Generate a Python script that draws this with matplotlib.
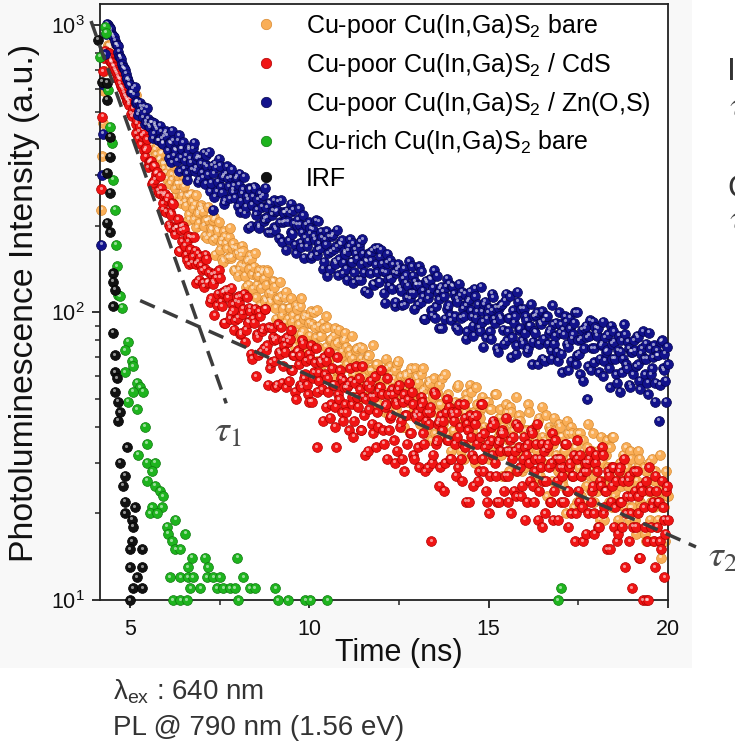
import numpy as np
import matplotlib
matplotlib.use("Agg")
import matplotlib.pyplot as plt
from matplotlib import transforms
from matplotlib.lines import Line2D
from matplotlib.patches import Rectangle
from matplotlib.ticker import FixedLocator, NullFormatter, LogLocator

plt.rcParams['font.family'] = ['Liberation Sans', 'DejaVu Sans']
plt.rcParams['mathtext.fontset'] = 'custom'
plt.rcParams['mathtext.rm'] = 'Liberation Sans'
plt.rcParams['mathtext.it'] = 'Liberation Sans:italic'
plt.rcParams['mathtext.bf'] = 'Liberation Sans:bold'

# ---- TRPL decays, 0.025 ns channels starting at 4.200 ns ----
# even-numbered channels (4.200, 4.250, ...)
bare_even = [
    228, 455, 690, 830, 846, 852, 803, 790, 748, 730, 690, 676, 642, 628, 604, 590,
    590, 548, 561, 512, 498, 479, 501, 452, 438, 451, 409, 426, 385, 401, 368, 379, 341, 358, 329, 318,
    306, 336, 280, 303, 325, 270, 280, 244, 280, 255, 275, 235, 254, 220, 259, 230, 238, 198, 223, 229,
    230, 200, 209, 181, 210, 196, 179, 214, 182, 192, 165, 179, 150, 184, 167, 183, 155, 168, 141, 167,
    134, 163, 146, 163, 134, 150, 125, 158, 136, 144, 113, 134, 140, 122, 140, 111, 125, 138, 110, 116,
    128, 104, 112, 92, 114, 104, 92, 118, 95, 104, 85, 98, 76, 103, 91, 105, 84, 95, 75, 97,
    83, 101, 75, 89, 102, 76, 83, 66, 88, 76, 89, 69, 81, 63, 88, 72, 79, 57, 73, 80,
    85, 66, 74, 58, 69, 51, 74, 63, 76, 58, 67, 51, 69, 71, 57, 63, 49, 66, 59, 52,
    53, 59, 45, 64, 55, 65, 49, 59, 45, 66, 53, 60, 40, 55, 61, 49, 62, 44, 55, 64,
    59, 50, 61, 45, 54, 39, 56, 57, 45, 51, 38, 53, 48, 40, 59, 44, 51, 38, 47, 33,
    39, 49, 36, 56, 43, 49, 31, 46, 50, 40, 53, 35, 45, 55, 37, 43, 31, 47, 39, 49,
    31, 46, 40, 34, 52, 37, 43, 32, 40, 27, 45, 37, 47, 33, 41, 28, 42, 44, 33, 39,
    29, 38, 48, 31, 37, 25, 40, 33, 43, 29, 37, 26, 44, 33, 39, 22, 35, 39, 30, 41,
    37, 26, 33, 20, 38, 31, 40, 27, 34, 22, 36, 38, 27, 32, 22, 34, 30, 24, 38, 27,
    28, 33, 19, 30, 34, 25, 36, 22, 29, 37, 23, 27, 19, 30, 25, 32, 21, 29, 19, 33,
    21, 27, 17, 29, 31, 21, 25, 17, 28, 24, 19, 31, 21, 26, 18, 24, 14, 26, 21, 28,
    23,
]
cds_even = [
    268, 690, 812, 785, 796, 752, 738, 715, 688, 664, 645, 612, 598, 570, 552, 538,
    557, 482, 489, 420, 466, 427, 385, 434, 366, 373, 320, 335, 280, 324, 291, 308, 260, 270, 228, 255,
    224, 253, 198, 219, 239, 187, 197, 164, 199, 177, 195, 159, 177, 147, 183, 157, 164, 127, 150, 156,
    140, 123, 159, 127, 138, 112, 128, 98, 132, 116, 132, 105, 118, 92, 118, 120, 99, 107, 87, 109,
    96, 114, 85, 103, 79, 113, 92, 101, 69, 92, 60, 82, 101, 73, 88, 103, 74, 56, 64, 88,
    80, 55, 56, 73, 89, 65, 77, 55, 79, 81, 63, 71, 53, 73, 66, 56, 80, 59, 68, 52,
    49, 77, 59, 67, 34, 62, 68, 54, 70, 47, 59, 73, 48, 56, 40, 34, 52, 63, 45, 58,
    48, 55, 39, 58, 51, 42, 65, 47, 54, 39, 51, 32, 56, 46, 58, 41, 51, 34, 53, 55,
    63, 39, 47, 31, 52, 43, 54, 36, 49, 33, 56, 42, 49, 28, 44, 50, 38, 53, 32, 44,
    45, 29, 47, 49, 35, 42, 29, 45, 16, 32, 52, 36, 42, 29, 39, 24, 45, 36, 47, 31,
    44, 35, 45, 29, 40, 26, 48, 34, 41, 22, 37, 43, 31, 44, 26, 37, 48, 28, 34, 22,
    20, 40, 32, 41, 27, 35, 22, 38, 38, 27, 33, 22, 36, 31, 24, 41, 28, 34, 23, 31,
    19, 32, 35, 26, 38, 22, 31, 41, 24, 29, 18, 33, 26, 35, 22, 30, 19, 36, 26, 31,
    31, 27, 22, 35, 24, 29, 20, 27, 16, 31, 24, 32, 21, 28, 17, 30, 31, 22, 25, 17,
    32, 18, 26, 34, 20, 24, 15, 27, 22, 29, 18, 26, 17, 29, 22, 26, 13, 23, 27, 20,
    11, 28, 18, 23, 14, 25, 10, 18, 10, 10, 24, 21, 16, 27, 18, 22, 15, 21, 12, 24,
    19,
]
zos_even = [
    172, 418, 790, 1010, 985, 968, 925, 905, 858, 842, 780, 762, 712, 700, 648, 640,
    618, 583, 575, 536, 541, 502, 521, 478, 497, 462, 471, 440, 459, 421, 446, 432, 398, 425, 390, 410,
    427, 367, 391, 333, 398, 370, 337, 414, 347, 371, 316, 353, 289, 368, 333, 373, 311, 342, 284, 346,
    306, 360, 280, 322, 363, 283, 228, 253, 320, 285, 324, 261, 300, 246, 323, 275, 295, 262, 277, 293,
    234, 304, 245, 268, 221, 254, 197, 268, 237, 274, 219, 248, 197, 252, 256, 213, 232, 190, 239, 219,
    246, 194, 227, 182, 246, 206, 222, 165, 208, 223, 190, 228, 172, 202, 230, 175, 190, 155, 202, 178,
    188, 155, 194, 179, 159, 208, 167, 183, 150, 173, 134, 184, 163, 187, 150, 170, 135, 174, 178, 149,
    160, 130, 170, 150, 174, 138, 161, 130, 176, 148, 160, 119, 150, 161, 137, 164, 125, 147, 168, 128,
    165, 139, 108, 149, 131, 152, 121, 138, 109, 141, 143, 119, 131, 107, 135, 124, 112, 145, 117, 128,
    125, 145, 109, 119, 95, 129, 112, 131, 102, 122, 96, 134, 111, 121, 88, 114, 123, 103, 126, 94,
    123, 97, 112, 87, 115, 118, 97, 106, 86, 111, 102, 90, 121, 96, 107, 86, 101, 76, 109, 95,
    104, 81, 116, 95, 104, 73, 97, 106, 87, 110, 80, 96, 114, 82, 92, 72, 118, 87, 103, 78,
    85, 94, 75, 90, 66, 97, 85, 100, 78, 91, 69, 94, 97, 78, 87, 69, 91, 83, 73, 100,
    91, 62, 84, 93, 76, 96, 68, 84, 100, 71, 80, 61, 87, 75, 90, 50, 83, 63, 93, 75,
    85, 88, 69, 78, 60, 82, 74, 64, 90, 69, 79, 61, 74, 53, 80, 69, 84, 64, 75, 55,
    73, 80, 65, 82, 58, 72, 86, 61, 69, 52, 75, 64, 77, 57, 71, 42, 79, 64, 72, 49,
    66,
]

# odd-numbered channels (4.225, 4.275, ...)
bare_odd = [
    350, 590, 780, 850, 832, 835, 812, 772, 760, 712, 700, 660, 650, 612, 598, 580,
    599, 514, 544, 572, 479, 483, 500, 409, 459, 467, 410, 371, 423, 387, 354, 407, 342, 359, 305, 330,
    292, 318, 336, 289, 253, 300, 280, 296, 240, 300, 243, 256, 210, 257, 244, 211, 256, 219, 205, 236,
    225, 185, 209, 233, 186, 194, 210, 159, 195, 206, 174, 153, 192, 174, 155, 197, 157, 174, 139, 161,
    141, 158, 171, 144, 123, 153, 142, 154, 121, 161, 125, 135, 106, 138, 131, 109, 140, 117, 108, 129,
    123, 95, 111, 128, 98, 103, 113, 80, 104, 112, 93, 80, 106, 95, 84, 112, 86, 98, 75, 92,
    78, 91, 100, 82, 68, 90, 83, 92, 68, 97, 72, 80, 60, 83, 78, 63, 87, 70, 64, 81,
    76, 57, 71, 83, 61, 66, 75, 50, 69, 75, 60, 51, 71, 63, 54, 77, 56, 66, 48, 61,
    52, 61, 69, 55, 44, 61, 57, 63, 46, 68, 49, 56, 40, 60, 57, 44, 64, 51, 46, 60,
    57, 41, 53, 64, 45, 49, 58, 36, 53, 59, 45, 37, 56, 48, 41, 61, 43, 52, 36, 48,
    39, 48, 55, 43, 33, 49, 45, 52, 35, 56, 39, 45, 30, 48, 45, 35, 51, 40, 36, 49,
    46, 32, 41, 52, 35, 39, 46, 27, 42, 48, 36, 28, 45, 39, 32, 51, 34, 42, 28, 39,
    31, 39, 45, 34, 26, 39, 36, 42, 27, 47, 30, 36, 23, 40, 37, 26, 43, 32, 28, 40,
    37, 25, 33, 42, 28, 31, 38, 21, 34, 38, 29, 23, 36, 31, 25, 41, 27, 33, 22, 31,
    24, 31, 37, 26, 19, 32, 29, 34, 21, 37, 24, 29, 18, 30, 28, 21, 34, 25, 21, 31,
    28, 19, 26, 33, 22, 24, 29, 16, 26, 30, 22, 16, 28, 23, 19, 32, 21, 25, 16, 23,
]
cds_odd = [
    480, 770, 800, 800, 770, 745, 722, 700, 676, 650, 626, 605, 584, 560, 545, 528,
    492, 512, 520, 454, 402, 445, 412, 418, 348, 401, 333, 337, 284, 323, 304, 265, 299, 259, 240, 259,
    246, 202, 223, 241, 194, 198, 211, 163, 193, 200, 171, 152, 184, 166, 149, 183, 148, 160, 130, 146,
    127, 142, 154, 128, 109, 136, 126, 137, 106, 140, 109, 117, 92, 120, 113, 95, 122, 102, 94, 113,
    108, 84, 99, 116, 87, 93, 104, 72, 95, 103, 84, 71, 97, 86, 75, 103, 77, 89, 67, 82,
    68, 81, 91, 72, 57, 80, 73, 82, 58, 87, 63, 71, 50, 74, 71, 55, 78, 61, 56, 72,
    69, 49, 62, 75, 53, 58, 67, 42, 61, 68, 53, 43, 64, 56, 47, 70, 50, 59, 42, 55,
    45, 56, 64, 48, 37, 57, 51, 59, 39, 65, 44, 50, 33, 55, 51, 38, 60, 45, 40, 55,
    52, 35, 48, 59, 39, 44, 52, 30, 48, 54, 40, 31, 52, 44, 35, 57, 38, 48, 31, 43,
    34, 44, 51, 38, 28, 45, 41, 47, 30, 53, 35, 41, 25, 44, 42, 30, 50, 36, 31, 45,
    42, 27, 37, 48, 31, 35, 43, 22, 39, 44, 32, 25, 41, 35, 28, 48, 31, 38, 24, 35,
    27, 36, 42, 30, 22, 36, 33, 39, 24, 43, 27, 33, 20, 37, 33, 23, 40, 29, 25, 37,
    34, 22, 30, 39, 25, 28, 35, 19, 31, 35, 26, 20, 34, 29, 22, 38, 24, 31, 19, 29,
    22, 29, 35, 24, 18, 30, 27, 32, 20, 36, 22, 27, 16, 30, 28, 20, 33, 24, 20, 30,
    28, 18, 25, 32, 21, 24, 28, 15, 25, 29, 21, 16, 28, 22, 18, 31, 20, 26, 16, 23,
    18, 24, 28, 20, 14, 24, 21, 26, 16, 29, 18, 22, 13, 24, 22, 16, 26, 19, 17, 25,
]
zos_odd = [
    300, 620, 930, 1000, 975, 940, 918, 880, 852, 806, 775, 730, 706, 676, 652, 622,
    583, 602, 610, 542, 488, 536, 508, 519, 451, 515, 446, 459, 404, 456, 439, 397, 447, 404, 386, 420,
    412, 346, 388, 429, 353, 367, 395, 310, 372, 391, 339, 305, 374, 344, 314, 389, 319, 350, 289, 331,
    294, 328, 354, 303, 264, 324, 305, 329, 264, 343, 274, 295, 239, 305, 293, 250, 315, 267, 251, 296,
    278, 224, 260, 296, 233, 247, 271, 200, 254, 271, 228, 201, 260, 233, 208, 272, 214, 241, 190, 226,
    198, 225, 244, 206, 176, 223, 208, 226, 178, 239, 188, 204, 161, 211, 202, 169, 218, 183, 170, 206,
    196, 158, 184, 209, 165, 174, 191, 142, 180, 192, 161, 142, 184, 166, 148, 194, 153, 173, 137, 163,
    142, 164, 180, 150, 127, 165, 154, 169, 130, 180, 138, 152, 117, 159, 152, 126, 167, 138, 128, 157,
    148, 117, 138, 160, 124, 132, 147, 105, 137, 147, 122, 106, 142, 127, 113, 151, 117, 134, 103, 125,
    107, 125, 139, 114, 95, 127, 117, 130, 98, 140, 105, 117, 88, 123, 118, 95, 131, 106, 98, 124,
    116, 89, 109, 126, 96, 103, 116, 81, 109, 118, 97, 83, 114, 101, 89, 123, 93, 107, 82, 100,
    86, 102, 113, 92, 75, 104, 95, 107, 78, 116, 86, 96, 70, 102, 97, 77, 109, 88, 80, 103,
    97, 73, 90, 107, 79, 86, 98, 66, 92, 101, 81, 68, 97, 85, 74, 106, 78, 92, 68, 85,
    72, 87, 97, 78, 63, 88, 81, 92, 66, 100, 72, 81, 58, 88, 82, 65, 94, 75, 67, 89,
    83, 62, 77, 93, 68, 73, 84, 55, 78, 86, 69, 57, 83, 73, 62, 91, 66, 79, 56, 73,
    61, 74, 83, 66, 54, 75, 69, 78, 57, 85, 61, 70, 49, 74, 71, 56, 80, 63, 58, 76,
]

# Cu-rich film and instrument response (only channels above the 10-count floor)
rich_t = [4.16, 4.30, 4.33, 4.39, 4.44, 4.50, 4.53, 4.58, 4.60, 4.64, 4.66, 4.72, 4.78,
          4.94, 4.86, 5.06, 5.08, 4.86, 5.20, 5.28, 5.08, 5.36, 4.94, 5.20, 5.42, 5.47,
          5.22, 5.47, 5.70, 5.61, 5.47, 5.70, 5.84, 5.92, 5.61, 5.89, 5.56, 5.75, 6.26,
          6.03, 6.06, 6.54, 6.17, 6.26, 6.40, 6.73, 7.09, 7.99, 6.62, 7.18, 6.12, 6.40,
          6.62, 6.76, 7.15, 7.32, 7.51, 8.16, 6.68, 6.96, 7.43, 7.60, 7.79, 7.93, 8.35,
          8.49, 9.05, 6.20, 6.40, 6.59, 8.02, 9.11, 9.39, 9.89, 10.03, 10.50, 17.01, 16.93]
rich_counts = [774, 985, 940, 594, 443, 390, 290, 228, 172, 145, 115, 114, 104,
               79, 74, 68, 65, 62, 57, 55, 53, 53, 49, 46, 40, 35,
               32, 30, 30, 28, 26, 25, 24, 23, 21, 21, 20, 20, 19,
               18, 17, 17, 16, 15, 15, 14, 14, 14, 13, 13, 12, 12,
               12, 12, 12, 12, 12, 12, 11, 11, 11, 11, 11, 11, 11,
               11, 11, 10, 10, 10, 10, 10, 10, 10, 10, 10, 11, 10]

irf_t = [4.11, 4.22, 4.36, 4.36, 4.44, 4.44, 4.36, 4.44, 4.36, 4.44, 4.53, 4.53, 4.58,
         4.53, 4.53, 4.58, 4.58, 4.64, 4.58, 4.66, 4.72, 4.66, 4.92, 4.72, 4.86, 4.80,
         4.86, 5.14, 4.86, 5.06, 5.08, 5.06, 5.00, 5.34, 5.00, 5.34, 5.20, 5.08, 5.34, 5.00]
irf_counts = [887, 634, 629, 549, 409, 348, 306, 261, 205, 190, 137, 128, 120,
              105, 85, 71, 62, 59, 53, 49, 45, 42, 34, 30, 27, 25,
              22, 21, 20, 19, 18, 16, 15, 15, 13, 13, 12, 11, 11, 10]

# Bi-exponential components (fast and slow decay guides)
tau1_t = [3.91, 7.68]
tau1_counts = [1032, 48.3]
tau2_t = [5.28, 20.78]
tau2_counts = [110, 15.3]

labels = ['Cu-poor Cu(In,Ga)S$_2$ bare',
          'Cu-poor Cu(In,Ga)S$_2$ / CdS',
          'Cu-poor Cu(In,Ga)S$_2$ / Zn(O,S)',
          'Cu-rich Cu(In,Ga)S$_2$ bare',
          'IRF']
colors = ['#f9ae57', '#f01414', '#12128c', '#1eb41e', '#111111']
edges = ['#d98a30', '#b00000', '#05054f', '#0f7a0f', '#000000']

t_even = np.round(4.20 + 0.05 * np.arange(len(bare_even)), 3)
t_odd = np.round(4.225 + 0.05 * np.arange(len(bare_odd)), 3)


def merged(even, odd):
    t = np.concatenate([t_even, t_odd])
    c = np.concatenate([even, odd]).astype(float)
    order = np.argsort(t, kind='stable')
    return t[order], c[order]


fig = plt.figure(figsize=(7.35, 7.46), dpi=100)
fig.patch.set_facecolor('white')
fig.add_artist(Rectangle((0, 1 - 668 / 746), 692 / 735, 668 / 746,
                         transform=fig.transFigure, facecolor='#f8f8f8',
                         edgecolor='none', zorder=-10))

ax = fig.add_axes([100 / 735, 1 - 600 / 746, 568 / 735, 596 / 746])
ax.set_facecolor('white')
ax.set_yscale('log')
ax.set_xlim(4.16, 20)
ax.set_ylim(10, 1183)


def spheres(t, y, color, edge, z):
    ax.scatter(t, y, s=50, c=color, edgecolors=edge, linewidths=0.5,
               zorder=z, clip_on=False)
    shine = transforms.offset_copy(ax.transData, fig=fig, x=-0.8, y=1.5, units='dots')
    ax.scatter(t, y, s=5, c='white', alpha=0.55, linewidths=0,
               transform=shine, zorder=z + 0.01, clip_on=False)


series = [merged(bare_even, bare_odd), merged(cds_even, cds_odd),
          merged(zos_even, zos_odd), (rich_t, rich_counts), (irf_t, irf_counts)]
for i, (tt, cc) in enumerate(series):
    spheres(tt, cc, colors[i], edges[i], 2 + i)

dash_kw = dict(color='#3c3c3c', lw=2.5, ls=(0, (4.6, 2.6)), zorder=10,
               clip_on=False, dash_capstyle='butt')
ax.plot(tau1_t, tau1_counts, **dash_kw)
ax.plot(tau2_t, tau2_counts, **dash_kw)

ax.text(7.35, 35.6, r'$\tau_1$', math_fontfamily='stix', fontsize=27,
        color='#4a4a4a', ha='left', va='baseline')
ax.text(21.12, 13.0, r'$\tau_2$', math_fontfamily='stix', fontsize=27,
        color='#4a4a4a', ha='left', va='baseline', clip_on=False)

# axes styling
for sp in ax.spines.values():
    sp.set_linewidth(1.3)
    sp.set_color('#222222')
ax.xaxis.set_major_locator(FixedLocator([5, 10, 15, 20]))
ax.xaxis.set_minor_locator(FixedLocator([7.5, 12.5, 17.5]))
ax.yaxis.set_major_locator(LogLocator(base=10, numticks=10))
ax.yaxis.set_minor_locator(LogLocator(base=10, subs=np.arange(2, 10), numticks=20))
ax.yaxis.set_minor_formatter(NullFormatter())
ax.tick_params(which='major', direction='out', length=6, width=1.3,
               labelsize=15.5, colors='#222222', labelcolor='#111111')
ax.tick_params(axis='x', which='major', pad=8)
ax.tick_params(axis='y', which='major', pad=5)
ax.tick_params(which='minor', direction='out', length=3.5, width=1.1, colors='#222222')

ax.set_xlabel('Time (ns)', fontsize=22, color='#111111')
ax.xaxis.set_label_coords((399 - 100) / 568, -0.064)
ax.set_ylabel('Photoluminescence Intensity (a.u.)', fontsize=24.3, color='#111111')
ax.yaxis.set_label_coords(-0.1056, 0.498)

handles = [Line2D([], [], ls='none', marker='o', markersize=7.5, color=c,
                  markeredgecolor=e, markeredgewidth=0.5)
           for c, e in zip(colors, edges)]
ax.legend(handles, labels, loc='upper left', frameon=False, fontsize=18,
          handlelength=1.0, handletextpad=1.1, labelspacing=0.43,
          borderpad=0, borderaxespad=0,
          bbox_to_anchor=(253 / 735, 1 - 12 / 746), bbox_transform=fig.transFigure)

# notes below the plot
fig.text(113 / 735, 1 - 700 / 746, r'$\mathregular{\lambda_{ex}}$ : 640 nm',
         fontsize=20, color='#333333', ha='left', va='baseline')
fig.text(113 / 735, 1 - 735 / 746, 'PL @ 790 nm (1.56 eV)',
         fontsize=20, color='#333333', ha='left', va='baseline')

# side annotations running past the right edge
fig.text(727 / 735, 1 - 80 / 746, 'In', fontsize=23, color='#333333',
         ha='left', va='baseline')
fig.text(729 / 735, 1 - 117 / 746, r'$\tau_1$', math_fontfamily='stix',
         fontsize=27, color='#4a4a4a', ha='left', va='baseline')
fig.text(727 / 735, 1 - 197 / 746, 'Cu', fontsize=23, color='#333333',
         ha='left', va='baseline')
fig.text(729 / 735, 1 - 230 / 746, r'$\tau_1$', math_fontfamily='stix',
         fontsize=27, color='#4a4a4a', ha='left', va='baseline')

fig.savefig('out.png', dpi=100)
